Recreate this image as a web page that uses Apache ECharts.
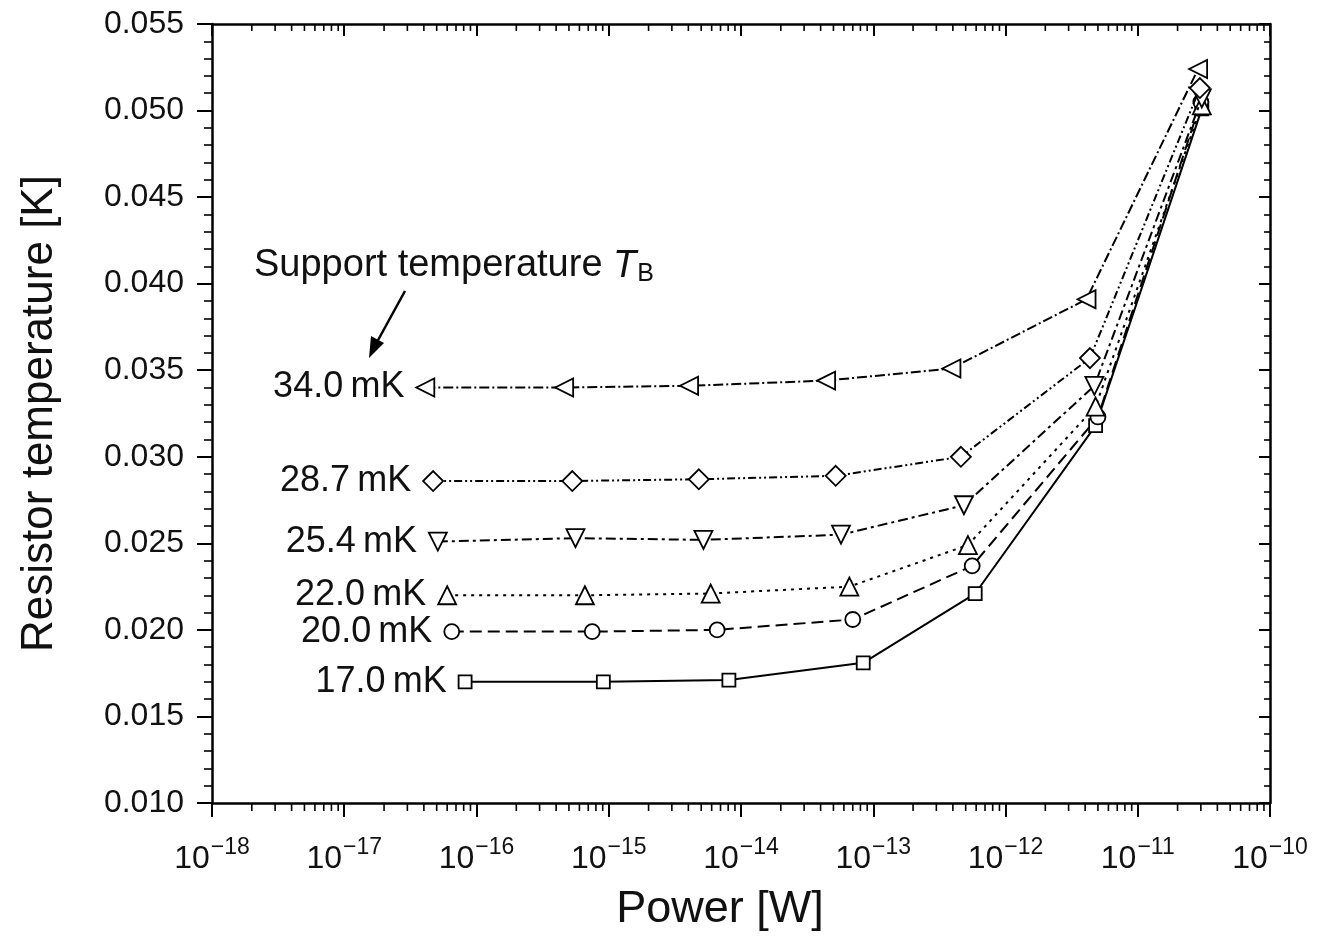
<!DOCTYPE html>
<html><head><meta charset="utf-8">
<script src="https://cdn.jsdelivr.net/npm/echarts@6/dist/echarts.min.js"></script>
<style>html,body{margin:0;padding:0;background:#fff}#c{width:1331px;height:937px}</style>
</head><body><div id="c"></div>
<script>
// ---- data (power in W, temperature in K) ----
const seriesNames = ['17.0\u2009mK', '20.0\u2009mK', '22.0\u2009mK', '25.4\u2009mK', '28.7\u2009mK', '34.0\u2009mK'];
const P17 = [8.2e-17, 9.1e-16, 8.1e-15, 8.4e-14, 5.9e-13, 4.8e-12, 3.05e-11];
const T17 = [0.0170, 0.0170, 0.0171, 0.0181, 0.0221, 0.0318, 0.0501];
const P20 = [6.5e-17, 7.5e-16, 6.6e-15, 7.0e-14, 5.6e-13, 5.0e-12, 3.0e-11];
const T20 = [0.0199, 0.0199, 0.0200, 0.0206, 0.0237, 0.0323, 0.0505];
const P22 = [6.0e-17, 6.6e-16, 5.9e-15, 6.6e-14, 5.2e-13, 4.8e-12, 3.05e-11];
const T22 = [0.0220, 0.0220, 0.0221, 0.0225, 0.0249, 0.0329, 0.0503];
const P25 = [5.1e-17, 5.6e-16, 5.2e-15, 5.7e-14, 4.85e-13, 4.7e-12, 3.05e-11];
const T25 = [0.0251, 0.0253, 0.0252, 0.0255, 0.0272, 0.0341, 0.0507];
const P28 = [4.7e-17, 5.3e-16, 4.8e-15, 5.2e-14, 4.6e-13, 4.35e-12, 2.95e-11];
const T28 = [0.0286, 0.0286, 0.0287, 0.0289, 0.0300, 0.0357, 0.0513];
const P34 = [4.1e-17, 4.6e-16, 4.05e-15, 4.4e-14, 3.9e-13, 4.1e-12, 2.86e-11];
const T34 = [0.0340, 0.0340, 0.0341, 0.0344, 0.0351, 0.0391, 0.0524];
const xDecades = [-18, -17, -16, -15, -14, -13, -12, -11, -10];
const yTicks = [0.010, 0.015, 0.020, 0.025, 0.030, 0.035, 0.040, 0.045, 0.050, 0.055];

// ---- styles ----
const FONT = '"Liberation Sans", Arial, sans-serif';
const styles = [
  {symbol: 'rect', size: 13, rot: 0, dash: 'solid'},
  {symbol: 'circle', size: 15, rot: 0, dash: [12, 6]},
  {symbol: 'triangle', size: 18, rot: 0, dash: [3, 5]},
  {symbol: 'triangle', size: 18, rot: 180, dash: [10, 4, 3, 4]},
  {symbol: 'diamond', size: 20, rot: 0, dash: [8, 3, 2, 3, 2, 3]},
  {symbol: 'triangle', size: 18, rot: 90, dash: [10, 3, 2, 3]}
];
const Ps = [P17, P20, P22, P25, P28, P34];
const Ts = [T17, T20, T22, T25, T28, T34];

const lineSeries = Ps.map((P, i) => ({
  type: 'line',
  name: seriesNames[i],
  xAxisIndex: 0, yAxisIndex: 0,
  data: P.map((p, j) => {
    const item = {value: [p, Ts[i][j]]};
    if (j === 0) item.label = {
      show: true, position: 'left', distance: 11,
      formatter: seriesNames[i], fontSize: 36, fontFamily: FONT, color: '#111'
    };
    return item;
  }),
  symbol: styles[i].symbol,
  symbolSize: styles[i].size,
  symbolRotate: styles[i].rot,
  showSymbol: true,
  itemStyle: {color: '#fff', borderColor: '#000', borderWidth: 1.8},
  lineStyle: {color: '#000', width: 2, type: styles[i].dash},
  z: 3 + i,
  animation: false
}));

// minor tick positions on the log axis (2..9 x 10^k)
const minorX = [];
xDecades.slice(0, -1).forEach(d => { for (let m = 2; m <= 9; m++) minorX.push([m * Math.pow(10, d)]); });

const minorSeries = {
  type: 'custom',
  xAxisIndex: 0, yAxisIndex: 0,
  data: minorX,
  clip: false,
  silent: true,
  animation: false,
  renderItem: function (params, api) {
    const b = api.coord([api.value(0), 0.010]);
    const t = api.coord([api.value(0), 0.055]);
    return {type: 'group', children: [
      {type: 'line', shape: {x1: b[0], y1: b[1], x2: b[0], y2: b[1] + 8}, style: {stroke: '#000', lineWidth: 1.6}},
      {type: 'line', shape: {x1: t[0], y1: t[1], x2: t[0], y2: t[1] + 7}, style: {stroke: '#000', lineWidth: 1.6}}
    ]};
  }
};

function decadeLabel(v) {
  const e = Math.round(Math.log10(v));
  return '{b|10}{s|' + String(e).replace('-', '\u2212') + '}';
}

const option = {
  backgroundColor: '#fff',
  animation: false,
  grid: {left: 212, right: 61, top: 24, bottom: 132, containLabel: false},
  xAxis: [
    {
      type: 'log', logBase: 10, min: 1e-18, max: 1e-10, position: 'bottom',
      name: 'Power [W]', nameLocation: 'middle', nameGap: 84,
      nameTextStyle: {fontSize: 45, fontFamily: FONT, color: '#111', padding: [0, 42, 0, 0]},
      axisLine: {show: true, lineStyle: {color: '#000', width: 2.5}},
      axisTick: {show: true, inside: false, length: 14, lineStyle: {color: '#000', width: 2}},
      minorTick: {show: false},
      splitLine: {show: false},
      axisLabel: {
        margin: 33, formatter: decadeLabel, color: '#111',
        rich: {
          b: {fontSize: 32, fontFamily: FONT, color: '#111', verticalAlign: 'bottom'},
          s: {fontSize: 23, fontFamily: FONT, color: '#111', verticalAlign: 'top', padding: [0, 0, 16, 1]}
        }
      }
    },
    {
      type: 'log', logBase: 10, min: 1e-18, max: 1e-10, position: 'top',
      axisLine: {show: true, lineStyle: {color: '#000', width: 2.5}},
      axisTick: {show: true, inside: true, length: 12, lineStyle: {color: '#000', width: 2}},
      axisLabel: {show: false}, splitLine: {show: false}
    }
  ],
  yAxis: [
    {
      type: 'value', min: 0.010, max: 0.055, interval: 0.005, position: 'left',
      name: 'Resistor temperature [K]', nameLocation: 'middle', nameGap: 150,
      nameTextStyle: {fontSize: 44, fontFamily: FONT, color: '#111'},
      axisLine: {show: true, lineStyle: {color: '#000', width: 2.5}},
      axisTick: {show: true, inside: false, length: 15, lineStyle: {color: '#000', width: 2}},
      minorTick: {show: true, splitNumber: 5, length: 8, lineStyle: {color: '#000', width: 1.6}},
      splitLine: {show: false},
      axisLabel: {margin: 28, fontSize: 32, fontFamily: FONT, color: '#111', formatter: v => v.toFixed(3)}
    },
    {
      type: 'value', min: 0.010, max: 0.055, interval: 0.005, position: 'right',
      axisLine: {show: true, lineStyle: {color: '#000', width: 2.5}},
      axisTick: {show: true, inside: true, length: 11, lineStyle: {color: '#000', width: 2}},
      minorTick: {show: true, splitNumber: 5, length: 6, lineStyle: {color: '#000', width: 1.6}},
      axisLabel: {show: false}, splitLine: {show: false}
    }
  ],
  series: lineSeries.concat([minorSeries]),
  graphic: [
    {
      type: 'text', left: 254, top: 247, z: 100,
      style: {
        text: '{a|Support temperature }{t|T}{sub|B}',
        rich: {
          a: {fontSize: 38, fontFamily: FONT, fill: '#111'},
          t: {fontSize: 38, fontFamily: FONT, fontStyle: 'italic', fill: '#111'},
          sub: {fontSize: 25, fontFamily: FONT, fill: '#111', verticalAlign: 'bottom', padding: [17, 0, 0, 1]}
        }
      }
    },
    {
      type: 'line', z: 100,
      shape: {x1: 405, y1: 291, x2: 377, y2: 342},
      style: {stroke: '#000', lineWidth: 2.5}
    },
    {
      type: 'polygon', z: 100,
      shape: {points: [[369, 358], [371, 336], [384, 343]]},
      style: {fill: '#000'}
    }
  ]
};

const chart = echarts.init(document.getElementById('c'), null, {renderer: 'canvas'});
chart.setOption(option);
</script>
</body></html>
